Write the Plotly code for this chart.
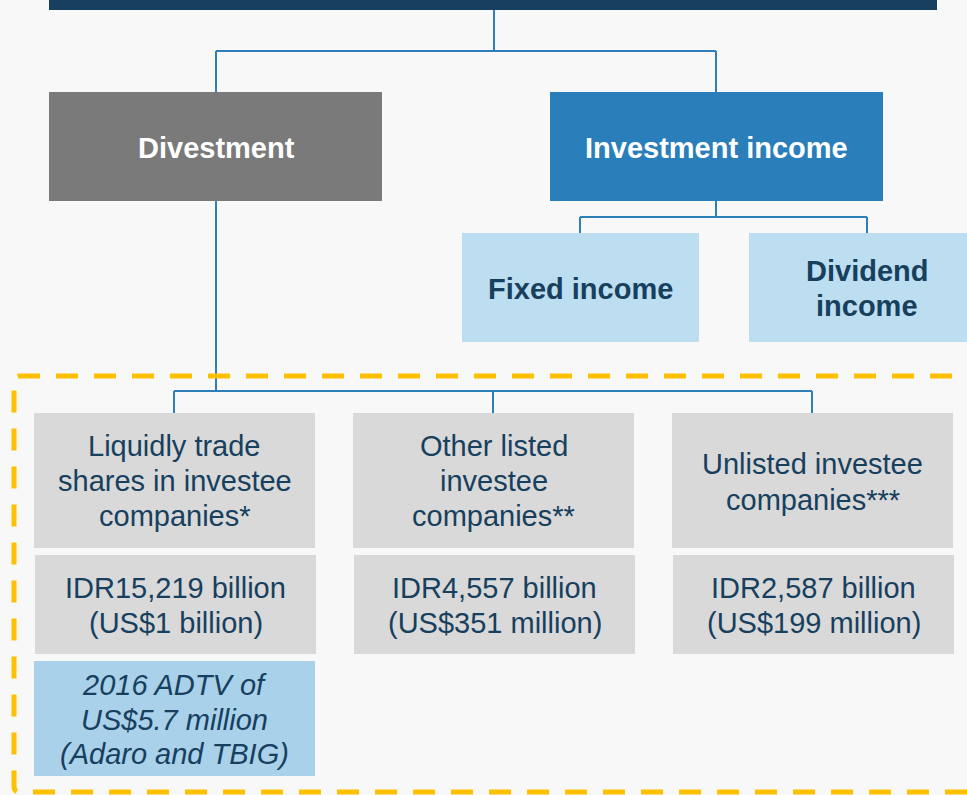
import plotly.graph_objects as go

# ---- text content ----
top_labels = ["Divestment", "Investment income"]
income_labels = [["Fixed income"], ["Dividend", "income"]]
category_labels = [
    ["Liquidly trade", "shares in investee", "companies*"],
    ["Other listed", "investee", "companies**"],
    ["Unlisted investee", "companies***"],
]
value_labels = [
    ["IDR15,219 billion", "(US$1 billion)"],
    ["IDR4,557 billion", "(US$351 million)"],
    ["IDR2,587 billion", "(US$199 million)"],
]
adtv_label = ["2016 ADTV of", "US$5.7 million", "(Adaro and TBIG)"]

# ---- layout constants (pixels) ----
W, H = 967, 795
BG = "#F8F8F8"
NAVY = "#17405E"
LINE = "#2E7EBA"
FONT = "Liberation Sans, Arial, sans-serif"
FS = 29

shapes = []
annotations = []


def rect(x0, y0, x1, y1, color):
    shapes.append(dict(type="rect", xref="x", yref="y", x0=x0, y0=y0, x1=x1, y1=y1,
                       fillcolor=color, line=dict(width=0), layer="below"))


def line(x0, y0, x1, y1):
    shapes.append(dict(type="line", xref="x", yref="y", x0=x0, y0=y0, x1=x1, y1=y1,
                       line=dict(color=LINE, width=2), layer="below"))


def text_lines(cx, ys, lines, color=NAVY, bold=False, italic=False):
    for y, t in zip(ys, lines):
        s = t
        if bold:
            s = "<b>" + s + "</b>"
        if italic:
            s = "<i>" + s + "</i>"
        annotations.append(dict(x=cx, y=y, xref="x", yref="y", text=s, showarrow=False,
                                xanchor="center", yanchor="middle",
                                font=dict(family=FONT, size=FS, color=color)))


# top bar
rect(49, -2, 937, 10, "#17405E")

# connectors top level
line(494, 10, 494, 51)
line(216, 51, 716, 51)
line(216, 51, 216, 92)
line(716, 51, 716, 92)

# level-1 boxes
rect(49, 92, 382, 201, "#7A7A7A")
rect(550, 92, 883, 201, "#2A7FBA")
text_lines(216, [148], [top_labels[0]], color="white", bold=True)
text_lines(716, [148], [top_labels[1]], color="white", bold=True)

# income connectors
line(716, 201, 716, 217)
line(580, 217, 867, 217)
line(580, 217, 580, 233)
line(867, 217, 867, 233)

rect(462, 233, 699, 342, "#BDDDF0")
rect(749, 233, 975, 342, "#BDDDF0")
text_lines(580, [289], income_labels[0], bold=True)
text_lines(867, [271, 306], income_labels[1], bold=True)

# divestment connectors
line(216, 201, 216, 391)
line(174, 391, 812, 391)
for cx in (174, 493, 812):
    line(cx, 391, cx, 413)

# category boxes
col_x = [(34, 315), (353, 634), (672, 953)]
cat_ys = [[446, 481, 516], [446, 481, 516], [464, 500]]
for (x0, x1), labs, ys in zip(col_x, category_labels, cat_ys):
    rect(x0, 413, x1, 548, "#D9D9D9")
    text_lines((x0 + x1) / 2, ys, labs)

for (x0, x1), labs in zip(col_x, value_labels):
    rect(x0 + 1, 555, x1 + 1, 654, "#D9D9D9")
    text_lines((x0 + x1) / 2 + 1, [588, 623], labs)

rect(34, 661, 315, 776, "#A9D1EA")
text_lines(174.5, [685, 720, 754], adtv_label, italic=True)

# dashed highlight frame (open on the right)
r = 6
shapes.append(dict(
    type="path", xref="x", yref="y",
    path=f"M 990,376 L {14 + r},376 Q 14,376 14,{376 + r} L 14,{792 - r} Q 14,792 {14 + r},792 L 990,792",
    line=dict(color="#FFC000", width=5, dash="22px,16px"), layer="above"))

fig = go.Figure()
fig.add_trace(go.Scatter(x=[0, W], y=[0, H], mode="markers", marker=dict(opacity=0),
                         hoverinfo="skip", showlegend=False))
fig.update_layout(
    width=W, height=H, margin=dict(l=0, r=0, t=0, b=0),
    paper_bgcolor=BG, plot_bgcolor=BG,
    xaxis=dict(range=[0, W], visible=False, fixedrange=True),
    yaxis=dict(range=[H, 0], visible=False, fixedrange=True),
    shapes=shapes, annotations=annotations, showlegend=False,
)
fig.write_html(
    "out.html",
    config={"displayModeBar": False},
    post_script="document.body.style.margin='0';document.body.style.padding='0';"
                "document.body.style.overflow='hidden';"
                "document.body.style.background='" + BG + "';",
)
